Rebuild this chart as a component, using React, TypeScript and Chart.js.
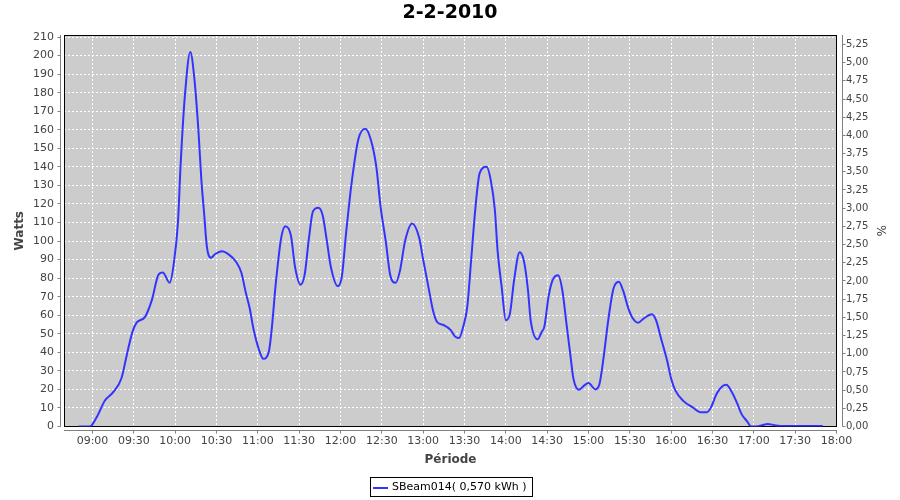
import React, { useEffect, useRef } from 'react';
import { Chart, registerables } from 'chart.js';

Chart.register(...registerables);

// ---------- data ----------
const chartTitle = '2-2-2010';
const seriesLabel = 'SBeam014( 0,570 kWh )';
const xAxisTitle = 'Période';
const yAxisTitle = 'Watts';
const y2AxisTitle = '%';

const times = [
  '08:50', '08:58', '09:03', '09:09', '09:15', '09:21', '09:25', '09:29', '09:32', '09:38',
  '09:43', '09:48', '09:51', '09:56', '09:59', '10:02', '10:04', '10:07', '10:11', '10:14',
  '10:17', '10:19', '10:21', '10:23', '10:26', '10:29', '10:34', '10:39', '10:44', '10:48',
  '10:51', '10:54', '10:57', '11:01', '11:04', '11:08', '11:10', '11:13', '11:17', '11:20',
  '11:24', '11:27', '11:31', '11:34', '11:37', '11:40', '11:44', '11:47', '11:50', '11:53',
  '11:58', '12:01', '12:04', '12:08', '12:13', '12:18', '12:22', '12:26', '12:29', '12:33',
  '12:36', '12:40', '12:43', '12:47', '12:52', '12:57', '13:00', '13:04', '13:07', '13:10',
  '13:15', '13:20', '13:23', '13:26', '13:29', '13:32', '13:35', '13:38', '13:41', '13:46',
  '13:49', '13:52', '13:54', '13:57', '14:00', '14:03', '14:06', '14:10', '14:13', '14:16',
  '14:18', '14:23', '14:26', '14:28', '14:31', '14:34', '14:38', '14:41', '14:44', '14:47',
  '14:49', '14:53', '14:57', '15:00', '15:05', '15:08', '15:11', '15:14', '15:18', '15:22',
  '15:25', '15:29', '15:32', '15:36', '15:40', '15:46', '15:49', '15:53', '15:57', '16:00',
  '16:03', '16:09', '16:16', '16:21', '16:26', '16:29', '16:33', '16:37', '16:40', '16:44',
  '16:48', '16:51', '16:55', '16:58', '17:02', '17:06', '17:10', '17:15', '17:19', '17:50',
];

const watts = [
  0, 0, 5, 14, 18.5, 26, 39, 51, 56, 59,
  68, 82, 83, 77.5, 88, 110, 142, 178, 202, 187,
  158, 133, 115, 97, 91, 93, 94.5, 92.7, 89, 83,
  73, 64, 52, 41, 36.5, 40.5, 52, 77, 102, 108,
  103, 86, 76.5, 82, 101, 116, 118, 114, 100.5, 86,
  75.7, 81, 104, 131, 155, 160.5, 154.6, 140, 119, 99,
  82, 77.5, 83.5, 100.5, 109.5, 102, 90, 74.5, 63, 56.5,
  54.6, 52, 48.6, 47.7, 53.7, 64.5, 91.5, 118.6, 136.6, 140,
  133, 117, 95, 75, 57.3, 61, 79, 94, 89.7, 74,
  57.3, 47, 51, 54, 70, 79, 81.6, 73.5, 55.5, 37.5,
  26, 19.8, 22.2, 23.4, 20, 23, 37.5, 55.5, 74, 78,
  73.5, 63.6, 58.5, 56, 58.2, 60.5, 57.3, 46.5, 35.7, 25.8,
  19.5, 13.7, 10.1, 7.7, 7.7, 10.5, 17.7, 21.6, 22.5, 18.6,
  12.3, 6.8, 2.9, 0, 0, 0.7, 1.4, 0.7, 0.3, 0.3,
];

const xTickLabels = [
  '09:00', '09:30', '10:00', '10:30', '11:00', '11:30', '12:00', '12:30', '13:00', '13:30',
  '14:00', '14:30', '15:00', '15:30', '16:00', '16:30', '17:00', '17:30', '18:00',
];
const yTickValues = [0, 10, 20, 30, 40, 50, 60, 70, 80, 90, 100, 110, 120, 130, 140, 150, 160, 170, 180, 190, 200, 210];
const y2TickLabels = [
  '0,00', '0,25', '0,50', '0,75', '1,00', '1,25', '1,50', '1,75', '2,00', '2,25', '2,50',
  '2,75', '3,00', '3,25', '3,50', '3,75', '4,00', '4,25', '4,50', '4,75', '5,00', '5,25',
];

// ---------- style ----------
const lineColor = '#3333ff';
const plotBg = '#cccccc';
const axisGray = '#808080';
const labelGray = '#444444';
const FONT = '"DejaVu Sans", Verdana, sans-serif';

const toMin = (s: string) => {
  const [h, m] = s.split(':').map(Number);
  return h * 60 + m;
};
const fmtMin = (v: number) => {
  const h = Math.floor(v / 60);
  const m = Math.round(v - h * 60);
  return `${String(h).padStart(2, '0')}:${String(m).padStart(2, '0')}`;
};
const parseComma = (s: string) => Number(s.replace(',', '.'));

const framePlugin = {
  id: 'frame',
  beforeDraw(chart: any) {
    const { ctx, chartArea: a } = chart;
    ctx.save();
    ctx.fillStyle = '#ffffff';
    ctx.fillRect(0, 0, chart.width, chart.height);
    ctx.fillStyle = plotBg;
    ctx.fillRect(a.left, a.top, a.right - a.left, a.bottom - a.top);
    ctx.restore();
  },
  beforeDatasetsDraw(chart: any) {
    const { ctx, chartArea: a, scales } = chart;
    ctx.save();
    ctx.strokeStyle = '#ffffff';
    ctx.lineWidth = 1;
    ctx.setLineDash([2, 2]);
    ctx.beginPath();
    scales.x.ticks.forEach((t: any) => {
      const px = Math.round(scales.x.getPixelForValue(t.value) - 0.5) + 0.5;
      ctx.moveTo(px, a.top);
      ctx.lineTo(px, a.bottom);
    });
    scales.y.ticks.forEach((t: any) => {
      const py = Math.round(scales.y.getPixelForValue(t.value) - 0.5) + 0.5;
      ctx.moveTo(a.left, py);
      ctx.lineTo(a.right, py);
    });
    ctx.stroke();
    ctx.setLineDash([]);
    ctx.strokeStyle = '#000000';
    ctx.lineWidth = 1;
    ctx.strokeRect(a.left + 0.5, a.top + 0.5, a.right - a.left - 1, a.bottom - a.top - 0.5);
    ctx.restore();
  },
  afterDraw(chart: any) {
    const { ctx, chartArea: a, scales } = chart;
    ctx.save();
    ctx.strokeStyle = axisGray;
    ctx.lineWidth = 1;
    ctx.beginPath();
    // left axis
    const lx = a.left - 3.5;
    ctx.moveTo(lx, a.top);
    ctx.lineTo(lx, a.bottom);
    scales.y.ticks.forEach((t: any) => {
      const py = Math.round(scales.y.getPixelForValue(t.value) - 0.5) + 0.5;
      ctx.moveTo(lx - 3, py);
      ctx.lineTo(lx, py);
    });
    // right axis
    const rx = a.right + 5.5;
    ctx.moveTo(rx, a.top);
    ctx.lineTo(rx, a.bottom);
    scales.y2.ticks.forEach((t: any) => {
      const py = Math.round(scales.y2.getPixelForValue(t.value) - 0.5) + 0.5;
      ctx.moveTo(rx, py);
      ctx.lineTo(rx + 3, py);
    });
    // bottom axis
    const by = a.bottom + 4;
    ctx.moveTo(a.left, by);
    ctx.lineTo(a.right, by);
    scales.x.ticks.forEach((t: any) => {
      const px = Math.round(scales.x.getPixelForValue(t.value) - 0.5) + 0.5;
      ctx.moveTo(px, by);
      ctx.lineTo(px, by + 3);
    });
    ctx.stroke();

    // legend
    ctx.font = `11px ${FONT}`;
    const tw = ctx.measureText(seriesLabel).width;
    const bw = Math.round(2 + 15 + 4 + tw + 6);
    const bx = Math.round(450.5 - bw / 2) + 0.5;
    const byy = 477.5;
    const bh = 19;
    ctx.fillStyle = '#ffffff';
    ctx.fillRect(bx, byy, bw, bh);
    ctx.strokeStyle = '#000000';
    ctx.strokeRect(bx, byy, bw, bh);
    ctx.strokeStyle = lineColor;
    ctx.lineWidth = 2;
    ctx.beginPath();
    ctx.moveTo(bx + 2.5, 488);
    ctx.lineTo(bx + 17.5, 488);
    ctx.stroke();
    ctx.fillStyle = '#000000';
    ctx.textBaseline = 'middle';
    ctx.textAlign = 'left';
    ctx.fillText(seriesLabel, bx + 21.5, 487.5);
    ctx.restore();
  },
};

export default function App() {
  const ref = useRef<HTMLCanvasElement>(null);

  useEffect(() => {
    const canvas = ref.current;
    if (!canvas) return;
    const points = times.map((t, i) => ({ x: toMin(t), y: watts[i] }));
    const chart = new Chart(canvas, {
      type: 'line',
      data: {
        datasets: [
          {
            label: seriesLabel,
            data: points,
            borderColor: lineColor,
            backgroundColor: lineColor,
            borderWidth: 2,
            pointRadius: 0,
            fill: false,
            cubicInterpolationMode: 'monotone',
            yAxisID: 'y',
            xAxisID: 'x',
          },
        ],
      },
      options: {
        responsive: false,
        animation: false,
        devicePixelRatio: 1,
        events: [],
        layout: { padding: 0 },
        plugins: {
          legend: { display: false },
          tooltip: { enabled: false },
          title: {
            display: true,
            text: chartTitle,
            color: '#000000',
            font: { family: FONT, size: 19, weight: 'bold', lineHeight: 1.2 },
            padding: { top: 1.6, bottom: 10.6 },
          },
        },
        scales: {
          x: {
            type: 'linear',
            position: 'bottom',
            min: 519.3,
            max: 1080.36,
            afterFit: (s: any) => {
              s.height = 73.5;
            },
            afterBuildTicks: (s: any) => {
              s.ticks = xTickLabels.map((l) => ({ value: toMin(l) }));
            },
            grid: { display: false, drawTicks: false },
            border: { display: false },
            ticks: {
              autoSkip: false,
              maxRotation: 0,
              minRotation: 0,
              padding: 8,
              color: labelGray,
              font: { family: FONT, size: 11 },
              callback: (v: any) => fmtMin(Number(v)),
            },
            title: {
              display: true,
              text: xAxisTitle,
              color: labelGray,
              font: { family: FONT, size: 12, weight: 'bold', lineHeight: 1.2 },
              padding: { top: 0, bottom: 32.8 },
            },
          },
          y: {
            type: 'linear',
            position: 'left',
            min: 0,
            max: 211.1,
            afterFit: (s: any) => {
              s.width = 64;
            },
            afterBuildTicks: (s: any) => {
              s.ticks = yTickValues.map((v) => ({ value: v }));
            },
            grid: { display: false, drawTicks: false },
            border: { display: false },
            ticks: {
              padding: 10,
              color: labelGray,
              font: { family: FONT, size: 11 },
              callback: (v: any) => String(v),
            },
            title: {
              display: true,
              text: yAxisTitle,
              color: labelGray,
              font: { family: FONT, size: 12, weight: 'bold', lineHeight: 1.2 },
              padding: { top: 12.8, bottom: 0 },
            },
          },
          y2: {
            type: 'linear',
            position: 'right',
            min: 0,
            max: 5.38,
            afterFit: (s: any) => {
              s.width = 63;
            },
            afterBuildTicks: (s: any) => {
              s.ticks = y2TickLabels.map((l) => ({ value: parseComma(l) }));
            },
            grid: { display: false, drawTicks: false },
            border: { display: false },
            ticks: {
              padding: 9,
              color: labelGray,
              font: { family: FONT, size: 10 },
              callback: (v: any) => Number(v).toFixed(2).replace('.', ','),
            },
            title: {
              display: true,
              text: y2AxisTitle,
              color: labelGray,
              font: { family: FONT, size: 12, lineHeight: 1.2 },
              padding: { top: 12.8, bottom: 0 },
            },
          },
        },
      },
      plugins: [framePlugin],
    } as any);
    return () => chart.destroy();
  }, []);

  return (
    <div style={{ position: 'absolute', left: 0, top: 0, width: 900, height: 500, background: '#ffffff' }}>
      <canvas ref={ref} width={900} height={500} style={{ display: 'block' }} />
    </div>
  );
}
